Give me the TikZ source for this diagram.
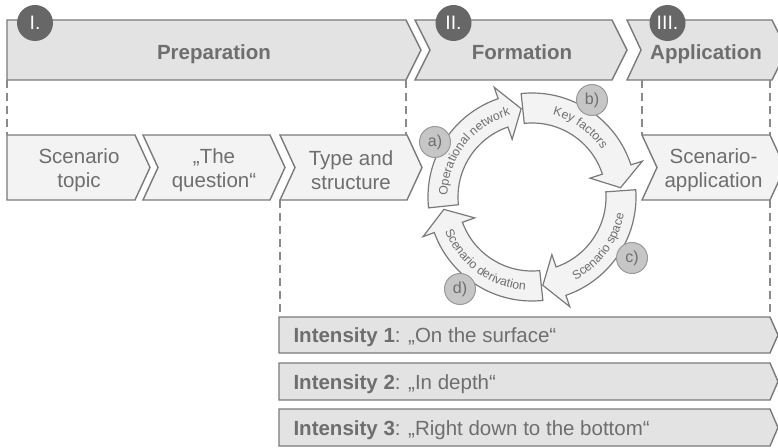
\documentclass[tikz,border=0pt]{standalone}
\usepackage{fontspec}
\setmainfont{Liberation Sans}
\usetikzlibrary{calc,decorations.text}

\definecolor{bandfill}{HTML}{E3E3E3}
\definecolor{boxfill}{HTML}{F3F3F3}
\definecolor{edge}{HTML}{7A7A7A}
\definecolor{txt}{HTML}{6E6E6E}
\definecolor{dark}{HTML}{676767}
\definecolor{letfill}{HTML}{C6C6C6}
\definecolor{letedge}{HTML}{9A9A9A}
\definecolor{guidegray}{HTML}{8A8A8A}

\tikzset{
  band/.style={draw=edge, fill=bandfill, line width=1.4pt, line join=miter},
  box/.style={draw=edge, fill=boxfill, line width=1.4pt, line join=miter},
  cyc/.style={draw=edge, fill=boxfill, line width=1.2pt, line join=miter},
  guide/.style={draw=guidegray, line width=1.2pt, dash pattern=on 8pt off 5pt},
  phase/.style={text=txt, anchor=base, font=\fontsize{20.5}{24}\selectfont\bfseries},
  boxtext/.style={text=txt, align=center, font=\fontsize{20.5}{24}\selectfont},
  intext/.style={text=txt, anchor=base west, font=\fontsize{20.5}{24}\selectfont},
  numdot/.style={circle, fill=dark, text=white, minimum size=36pt, inner sep=0pt, font=\fontsize{19.5}{20}\selectfont},
  letdot/.style={circle, draw=letedge, fill=letfill, line width=1pt, text=txt, minimum size=31pt, inner sep=0pt, font=\fontsize{16}{17}\selectfont},
  arctext/.style={decorate, decoration={text along path, text align=center, text color=txt}}
}

% chevron: style, left, right, top, bottom, notch depth, tip depth
\newcommand{\chevshape}[7]{\draw[#1] (#2,#4) -- (#3,#4) -- ({#3+#7},{(#4+#5)/2}) -- (#3,#5) -- (#2,#5) -- ({#2+#6},{(#4+#5)/2}) -- cycle;}
% bent arrow of the cycle: start angle, head base angle, tip angle
\newcommand{\cycarrow}[3]{\draw[cyc] (#1:104) arc[start angle=#1, end angle=#2, radius=104] -- (#2:116) -- (#3:89) -- (#2:61) -- (#2:74) arc[start angle=#2, end angle=#1, radius=74] -- cycle;}
\newcommand{\cycfont}{\fontsize{12.3}{13}\selectfont}

\begin{document}
\begin{tikzpicture}[x=1pt,y=1pt]
  \useasboundingbox (0,0) rectangle (778,447);
  % Top: phases
  \chevshape{band}{7}{406}{427}{367}{0}{15}
  \chevshape{band}{415}{612}{427}{367}{15}{15}
  \chevshape{band}{627}{772}{427}{367}{14}{15}
  \node[phase] (prep) at (214,387) {Preparation};
  \node[phase] (form) at (522,387) {Formation};
  \node[phase] (appl) at (706,387) {Application};
  \foreach \x/\t [count=\i] in {35/I., 453.5/II., 667.5/III.}
    \node[numdot] (num\i) at (\x,424) {\t};

  % Middle: steps
  \chevshape{box}{7}{135}{312}{247}{0}{15}
  \chevshape{box}{143}{270}{312}{247}{15}{15}
  \chevshape{box}{280}{407}{312}{247}{15}{15}
  \chevshape{box}{642}{770}{312}{247}{15}{15}
  \node[boxtext] (topic) at (79,277) {Scenario\\topic};
  \node[boxtext] (quest) at (214,277) {„The\\question“};
  \node[boxtext] (type) at (351,277) {Type and\\structure};
  \node[boxtext] (scenapp) at (713.5,277) {Scenario-\\application};

  % Bottom: intensities
  \foreach \t/\b/\s [count=\i] in {130/94/{„On the surface“}, 84/47/{„In depth“}, 38/1/{„Right down to the bottom“}} {
    \chevshape{band}{279}{770}{\t}{\b}{0}{8}
    \node[intext] (int\i) at (290,\b+10.5) {\textbf{Intensity \i}: \s};
  }

  % Guides
  \coordinate (prep-sw) at (7,367);
  \coordinate (prep-se) at (406,367);
  \coordinate (appl-sw) at (642,367);
  \coordinate (appl-se) at (770,367);
  \coordinate (topic-nw) at (7,312);
  \coordinate (type-ne) at (406,312);
  \coordinate (scenapp-nw) at (642,312);
  \coordinate (scenapp-ne) at (770,312);
  \coordinate (type-sw) at (280,247);
  \coordinate (scenapp-se) at (770,247);
  \coordinate (int-nw) at (280,130);
  \coordinate (int-ne) at (770,130);
  \draw[guide] (prep-sw) -- (topic-nw);
  \draw[guide] (prep-se) -- (type-ne);
  \draw[guide] (appl-sw) -- (scenapp-nw);
  \draw[guide] (appl-se) -- (scenapp-ne);
  \draw[guide] (type-sw) -- (int-nw);
  \draw[guide] (scenapp-se) -- (int-ne);

  % Cycle
  \begin{scope}[shift={(532,250)}]
    \cycarrow{186}{109}{97}
    \cycarrow{96}{18}{6}
    \cycarrow{4}{-71}{-83}
    \cycarrow{-84}{-160}{-172}
    \path[arctext, decoration={text={|\cycfont|Operational network}}] (202:84.5) arc[start angle=202, end angle=82, radius=84.5];
    \path[arctext, decoration={text={|\cycfont|Key factors}}] (115:84.5) arc[start angle=115, end angle=-5, radius=84.5];
    \path[arctext, decoration={text={|\cycfont|Scenario space}}] (-96.5:93.5) arc[start angle=-96.5, end angle=23.5, radius=93.5];
    \path[arctext, decoration={text={|\cycfont|Scenario derivation}}] (173.7:93.5) arc[start angle=173.7, end angle=293.7, radius=93.5];
    \node[letdot] (la) at (-97,55) {a)};
    \node[letdot] (lb) at (60,97) {b)};
    \node[letdot] (lc) at (100,-61) {c)};
    \node[letdot] (ld) at (-72,-92) {d)};
  \end{scope}
\end{tikzpicture}
\end{document}
